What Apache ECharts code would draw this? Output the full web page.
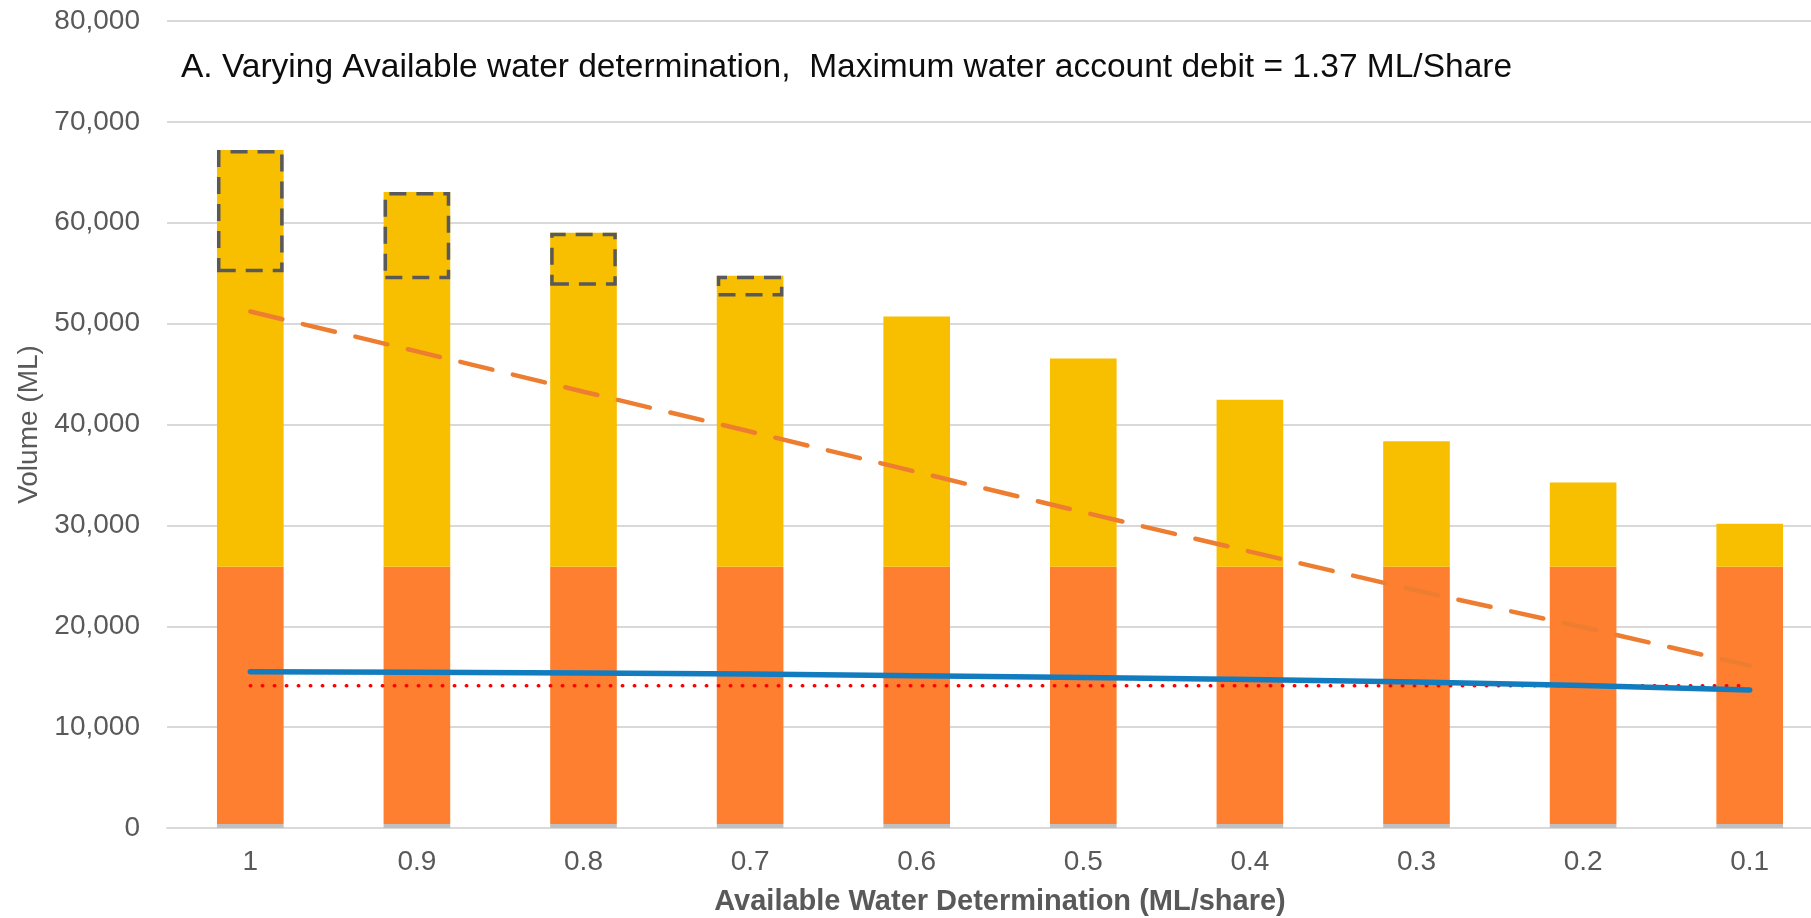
<!DOCTYPE html>
<html>
<head>
<meta charset="utf-8">
<script src="https://cdn.jsdelivr.net/npm/echarts@6/dist/echarts.min.js"></script>
<style>
html,body{margin:0;padding:0;background:#fff;overflow:hidden;}
#chart{width:1811px;height:918px;}
</style>
</head>
<body>
<div id="chart"></div>
<script>
// ---- data ----
const categories = ['1', '0.9', '0.8', '0.7', '0.6', '0.5', '0.4', '0.3', '0.2', '0.1'];
const grayVals   = [400, 400, 400, 400, 400, 400, 400, 400, 400, 400];
const orangeVals = [25500, 25500, 25500, 25500, 25500, 25500, 25500, 25500, 25500, 25500];
const yellowVals = [41300, 37150, 33100, 28850, 24800, 20650, 16550, 12450, 8350, 4250];
const boxBottom  = [55100, 54400, 53750, 52700, null, null, null, null, null, null];
const dashedLine = [51200, 47250, 43250, 39300, 35300, 31300, 27400, 23550, 19900, 16100];
const blueLine   = [15500, 15430, 15360, 15260, 15090, 14930, 14730, 14480, 14120, 13680];
const redDotted  = [14100, 14100, 14100, 14100, 14100, 14100, 14100, 14100, 14100, 14100];
const yTicks = { min: 0, max: 80000, interval: 10000 };
const titleText = 'A. Varying Available water determination,  Maximum water account debit = 1.37 ML/Share';

// derived: top of each stacked bar and the dashed box height
const totals = categories.map((_, i) => grayVals[i] + orangeVals[i] + yellowVals[i]);
const boxHeight = boxBottom.map((b, i) => b == null ? null : totals[i] - b);

const FONT = 'Liberation Sans, Arial, sans-serif';
const chart = echarts.init(document.getElementById('chart'), null, { renderer: 'canvas' });
const axisGray = '#595959';
chart.setOption({
  animation: false,
  backgroundColor: '#ffffff',
  title: {
    text: titleText,
    left: 176, top: 46,
    textStyle: { fontFamily: FONT, fontSize: 33.5, fontWeight: 'normal', color: '#0d0d0d' }
  },
  grid: { left: 167, top: 21, width: 1666, height: 807, containLabel: false, outerBoundsMode: 'none' },
  xAxis: {
    type: 'category',
    data: categories,
    boundaryGap: true,
    axisLine: { show: true, lineStyle: { color: '#d9d9d9', width: 2 } },
    axisTick: { show: false },
    axisLabel: { color: axisGray, fontSize: 28, fontFamily: FONT, margin: 20 },
    name: 'Available Water Determination (ML/share)',
    nameLocation: 'middle',
    nameGap: 59,
    nameTextStyle: { color: axisGray, fontSize: 29, fontWeight: 'bold', fontFamily: FONT }
  },
  yAxis: {
    type: 'value',
    min: yTicks.min, max: yTicks.max, interval: yTicks.interval,
    axisLine: { show: false },
    axisTick: { show: false },
    splitLine: { lineStyle: { color: '#d9d9d9', width: 2 } },
    axisLabel: {
      color: axisGray, fontSize: 28, margin: 27, fontFamily: FONT,
      formatter: v => v.toLocaleString('en-US')
    },
    name: 'Volume (ML)',
    nameLocation: 'middle',
    nameGap: 122,
    nameTextStyle: { color: axisGray, fontSize: 28, fontFamily: FONT }
  },
  series: [
    { name: 'gray', type: 'bar', stack: 'main', barWidth: '40%', barGap: '-100%', data: grayVals,
      itemStyle: { color: '#c0c0c0' } },
    { name: 'orange', type: 'bar', stack: 'main', data: orangeVals,
      itemStyle: { color: '#fe7f2f' } },
    { name: 'yellow', type: 'bar', stack: 'main', data: yellowVals,
      itemStyle: { color: '#f8bf00' } },
    { name: 'boxBase', type: 'bar', stack: 'box', barWidth: '40%', data: boxBottom,
      itemStyle: { color: 'rgba(0,0,0,0)' }, silent: true },
    { name: 'box', type: 'bar', stack: 'box', data: boxHeight, z: 5,
      itemStyle: { color: 'rgba(0,0,0,0)', borderColor: '#595959', borderWidth: 3.5, borderType: [17, 10] } },
    { name: 'dashed', type: 'line', data: dashedLine, symbol: 'none', z: 6,
      lineStyle: { color: '#ed7d31', width: 4.5, type: [33, 21], cap: 'round' } },
    { name: 'red', type: 'line', data: redDotted, symbol: 'none', z: 6,
      lineStyle: { color: '#ff0000', width: 3.5, type: [0.5, 11.5], cap: 'round' } },
    { name: 'blue', type: 'line', data: blueLine, symbol: 'none', z: 7,
      lineStyle: { color: '#137cbf', width: 5.5, cap: 'round' } }
  ]
});
</script>
</body>
</html>
